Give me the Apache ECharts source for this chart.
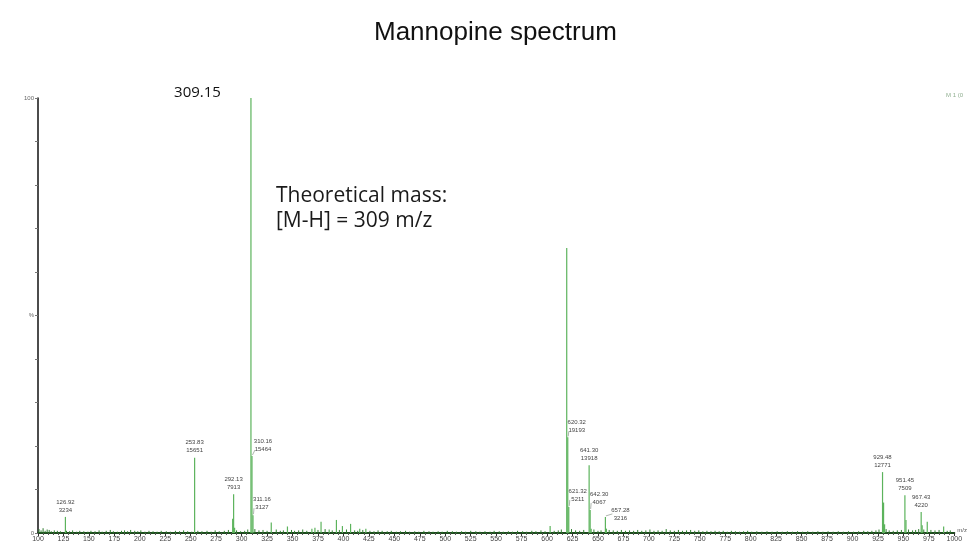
<!DOCTYPE html>
<html>
<head>
<meta charset="utf-8">
<script src="https://cdn.jsdelivr.net/npm/echarts@6/dist/echarts.min.js"></script>
<style>
  html, body { margin: 0; padding: 0; background: #ffffff; }
  #chart { width: 970px; height: 544px; }
</style>
</head>
<body>
<div id="chart"></div>
<script>
// Mass spectrum of mannopine, negative ion mode (relative intensity, %)

// Main peaks: m/z and relative intensity
const peakMz  = [126.92, 253.83, 291.2, 292.13, 293.1, 309.15, 310.16, 311.16, 329.1, 345.0,
                 369.0, 372.0, 378.0, 386.0, 393.1, 399.0, 407.0, 416.0, 422.0, 603.0,
                 619.3, 620.32, 621.32, 641.30, 642.30, 643.3, 657.28, 658.3,
                 929.48, 930.5, 931.5, 951.45, 952.5, 967.43, 968.4, 973.4, 989.5];
const peakPct = [3.7, 17.3, 3.3, 8.9, 1.2, 100, 17.7, 4.1, 2.4, 1.5,
                 1.0, 1.2, 2.6, 0.8, 3.0, 1.6, 2.1, 1.0, 1.0, 1.6,
                 65.5, 22.0, 6.0, 15.6, 5.3, 1.0, 3.7, 1.0,
                 14.0, 7.0, 2.0, 8.7, 3.0, 4.8, 1.8, 2.6, 1.5];

// Annotated peaks: m/z text and raw counts
const labelMz     = ['126.92', '253.83', '292.13', '310.16', '311.16', '620.32', '621.32',
                     '641.30', '642.30', '657.28', '929.48', '951.45', '967.43'];
const labelCounts = ['3234', '15651', '7913', '15464', '3127', '19193', '5211',
                     '13918', '4067', '3216', '12771', '7509', '4220'];

// Base peak
const basePeakMz = '309.15';

// Baseline noise
const noiseMz = [101, 103, 105, 107, 109, 111, 113, 116, 119, 122, 128, 131, 134, 138, 141, 145, 149, 152, 156, 160,
                 163, 167, 171, 174, 178, 182, 185, 188, 191, 195, 198, 201, 205, 209, 213, 217, 221, 226, 230, 235,
                 239, 243, 247, 251, 257, 261, 266, 270, 274, 278, 283, 287, 295, 299, 303, 306, 313, 317, 321, 325,
                 334, 338, 341, 349, 352, 356, 360, 364, 375, 382, 389, 396, 403, 411, 414, 419, 426, 430, 434, 438,
                 443, 447, 452, 456, 461, 465, 470, 474, 479, 484, 488, 493, 497, 502, 507, 511, 516, 520, 525, 530,
                 534, 539, 544, 548, 553, 557, 562, 566, 571, 576, 580, 585, 589, 594, 598, 607, 611, 614, 624, 628,
                 632, 636, 646, 650, 653, 661, 665, 669, 673, 677, 681, 685, 689, 693, 697, 701, 705, 709, 713, 717,
                 721, 725, 729, 733, 737, 741, 745, 749, 753, 757, 761, 765, 769, 773, 777, 781, 785, 789, 793, 797,
                 801, 806, 811, 816, 821, 826, 831, 836, 841, 846, 851, 856, 861, 866, 871, 876, 881, 886, 891, 896,
                 901, 906, 911, 915, 919, 923, 926, 933, 936, 940, 944, 948, 955, 959, 962, 965, 970, 977, 981, 985,
                 993, 996];
const noisePct = [0.9, 0.6, 1.1, 0.5, 0.8, 0.7, 0.4, 0.6, 0.5, 0.4, 0.5, 0.4, 0.6, 0.3, 0.5, 0.4, 0.3, 0.5, 0.4, 0.6,
                  0.3, 0.5, 0.7, 0.4, 0.3, 0.5, 0.6, 0.4, 0.7, 0.5, 0.4, 0.6, 0.3, 0.5, 0.4, 0.3, 0.5, 0.4, 0.3, 0.5,
                  0.4, 0.6, 0.4, 0.3, 0.5, 0.4, 0.5, 0.3, 0.6, 0.4, 0.5, 0.7, 0.6, 0.4, 0.5, 0.8, 0.9, 0.6, 0.7, 0.5,
                  0.8, 0.5, 0.6, 0.7, 0.5, 0.6, 0.8, 0.5, 0.7, 0.9, 0.6, 0.7, 0.8, 0.6, 0.5, 0.7, 0.5, 0.4, 0.6, 0.5,
                  0.4, 0.5, 0.3, 0.4, 0.5, 0.3, 0.4, 0.3, 0.5, 0.4, 0.3, 0.4, 0.3, 0.5, 0.4, 0.3, 0.4, 0.3, 0.5, 0.4,
                  0.3, 0.4, 0.3, 0.5, 0.4, 0.3, 0.4, 0.3, 0.5, 0.4, 0.3, 0.5, 0.4, 0.6, 0.4, 0.5, 0.6, 0.8, 0.9, 0.6,
                  0.5, 0.7, 0.8, 0.5, 0.6, 0.7, 0.6, 0.5, 0.7, 0.5, 0.6, 0.5, 0.7, 0.5, 0.6, 0.8, 0.5, 0.6, 0.5, 0.9,
                  0.6, 0.5, 0.7, 0.5, 0.6, 0.7, 0.5, 0.6, 0.4, 0.5, 0.4, 0.5, 0.4, 0.5, 0.3, 0.5, 0.4, 0.3, 0.4, 0.5,
                  0.3, 0.4, 0.3, 0.4, 0.3, 0.4, 0.3, 0.4, 0.3, 0.4, 0.3, 0.4, 0.3, 0.4, 0.3, 0.4, 0.3, 0.4, 0.3, 0.4,
                  0.3, 0.4, 0.5, 0.4, 0.5, 0.6, 0.8, 0.9, 0.6, 0.5, 0.6, 0.7, 0.8, 0.6, 0.7, 0.9, 0.8, 0.7, 0.6, 0.7,
                  0.5, 0.6];

// Axis ranges and ticks
const mzMin = 100, mzMax = 1000, mzStep = 25;
const pctMin = 0, pctMax = 100, pctStep = 10;
const yTickLabels = { 0: '0', 50: '%', 100: '100' };

// Label placement tweaks for crowded peaks: [dx, dy] in px, with leader line
const labelShift = {
  '310.16': [11, 0], '311.16': [9, -1], '620.32': [9, 0], '621.32': [9, -1],
  '642.30': [9, -1], '657.28': [15, 8]
};

function pctAt(mzText) {
  const v = parseFloat(mzText);
  const i = peakMz.findIndex(m => Math.abs(m - v) < 0.005);
  return i >= 0 ? peakPct[i] : 0;
}

const stickData = peakMz.map((m, i) => [m, peakPct[i]]);
const noiseData = noiseMz.map((m, i) => [m, noisePct[i]]);
const labelData = labelMz.map((t, i) => [parseFloat(t), pctAt(t), t, labelCounts[i]]);
const baseData = [[parseFloat(basePeakMz), pctAt(basePeakMz), basePeakMz]];

function stick(color, width) {
  return function (params, api) {
    const top = api.coord([api.value(0), api.value(1)]);
    const bot = api.coord([api.value(0), 0]);
    return {
      type: 'line',
      shape: { x1: top[0], y1: top[1], x2: bot[0], y2: bot[1] },
      style: { stroke: color, lineWidth: width }
    };
  };
}

function renderPeakLabel(params, api) {
  const key = labelData[params.dataIndex][2];
  const counts = labelData[params.dataIndex][3];
  const p = api.coord([api.value(0), api.value(1)]);
  const sh = labelShift[key];
  const dx = sh ? sh[0] : 0, dy = sh ? sh[1] : 0;
  const cx = p[0] + dx, by = p[1] - 3 + dy;
  const children = [{
    type: 'text',
    style: {
      text: key + '\n' + counts, x: cx, y: by,
      align: 'center', verticalAlign: 'bottom',
      fontFamily: 'Liberation Sans, Arial, sans-serif', fontSize: 6, lineHeight: 8,
      fill: '#444444'
    }
  }];
  if (sh) {
    children.push({
      type: 'line',
      shape: { x1: p[0] + 0.5, y1: p[1] - 1, x2: cx - 8, y2: Math.min(by - 3, p[1] - 3) },
      style: { stroke: '#9aa39a', lineWidth: 0.8 }
    });
  }
  return { type: 'group', children: children };
}

function renderBaseLabel(params, api) {
  const p = api.coord([api.value(0), api.value(1)]);
  return {
    type: 'text',
    style: {
      text: baseData[0][2], x: p[0] - 30, y: p[1] - 5,
      align: 'right', verticalAlign: 'middle',
      fontFamily: 'Open Sans, sans-serif', fontSize: 15, fill: '#111111'
    }
  };
}

const chart = echarts.init(document.getElementById('chart'), null, { renderer: 'canvas' });

chart.setOption({
  animation: false,
  backgroundColor: '#ffffff',
  title: {
    text: 'Mannopine spectrum',
    left: 369, top: 15,
    textStyle: { fontFamily: 'Liberation Sans, Arial, sans-serif', fontSize: 26, fontWeight: 'normal', color: '#111111' }
  },
  graphic: [
    {
      type: 'text', left: 276, top: 184,
      style: {
        text: 'Theoretical mass:\n[M-H] = 309 m/z',
        fontFamily: 'Open Sans, sans-serif', fontSize: 21, lineHeight: 25, fill: '#1a1a1a'
      }
    },
    {
      type: 'text', left: 946, top: 92,
      style: { text: 'M 1 (0', fontFamily: 'Liberation Sans, Arial, sans-serif', fontSize: 6, fill: '#8fae8f' }
    }
  ],
  grid: { left: 38, right: 13, top: 98, bottom: 11, containLabel: false },
  xAxis: {
    type: 'value', min: mzMin, max: mzMax, interval: mzStep,
    name: 'm/z', nameLocation: 'end', nameGap: 3,
    nameTextStyle: { fontFamily: 'Liberation Sans, Arial, sans-serif', fontSize: 6, color: '#555555', verticalAlign: 'bottom' },
    axisLine: { show: true, lineStyle: { color: '#1d4a1d', width: 2 } },
    axisTick: { show: true, length: 3, lineStyle: { color: '#333333', width: 1 } },
    minorTick: { show: true, splitNumber: 5, length: 2, lineStyle: { color: '#555555' } },
    axisLabel: {
      fontFamily: 'Liberation Sans, Arial, sans-serif', fontSize: 7, color: '#444444', margin: 3,
      formatter: v => String(v)
    },
    splitLine: { show: false }
  },
  yAxis: {
    type: 'value', min: pctMin, max: pctMax, interval: pctStep,
    axisLine: { show: true, lineStyle: { color: '#111111', width: 1.5 } },
    axisTick: { show: true, length: 3, lineStyle: { color: '#777777', width: 1 } },
    axisLabel: {
      fontFamily: 'Liberation Sans, Arial, sans-serif', fontSize: 6, color: '#666666', margin: 4,
      formatter: v => (yTickLabels[v] !== undefined ? yTickLabels[v] : '')
    },
    splitLine: { show: false }
  },
  series: [
    { type: 'custom', name: 'noise', data: noiseData, renderItem: stick('#2f7d2f', 1), z: 2 },
    { type: 'custom', name: 'peaks', data: stickData, renderItem: stick('#5cb35c', 1.2), z: 3 },
    { type: 'custom', name: 'peak labels', data: labelData, renderItem: renderPeakLabel, z: 4, silent: true },
    { type: 'custom', name: 'base peak', data: baseData, renderItem: renderBaseLabel, z: 4, silent: true }
  ]
});
</script>
</body>
</html>
